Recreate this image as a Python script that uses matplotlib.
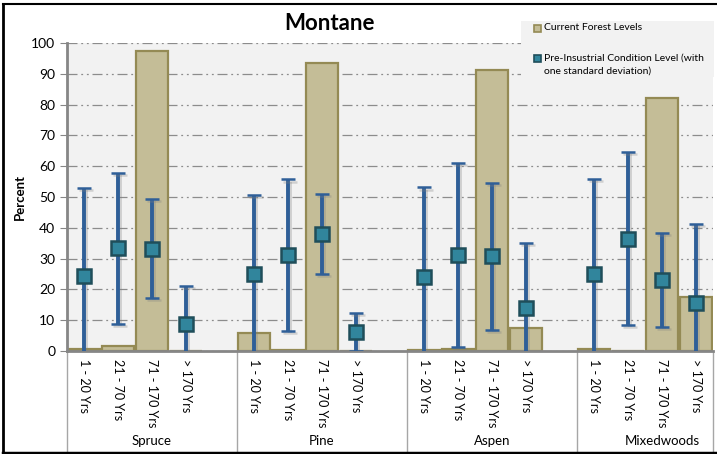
import numpy as np
import matplotlib
matplotlib.use("Agg")
import matplotlib.pyplot as plt
from matplotlib.patches import Rectangle
from matplotlib.lines import Line2D
import matplotlib.patheffects as pe

plt.rcParams['font.family'] = ['Lato', 'DejaVu Sans']

# data
groups = ["Spruce", "Pine", "Aspen", "Mixedwoods"]
age_classes = ["1 - 20 Yrs", "21 - 70 Yrs", "71 - 170 Yrs", "> 170 Yrs"]
current = [0.5, 1.5, 97.5, 0.0,
           6.0, 0.3, 93.5, 0.0,
           0.3, 0.5, 91.3, 7.5,
           0.5, 0.0, 82.0, 17.5]
pre_mean = [24.5, 33.3, 33.2, 8.7,
            25.1, 31.1, 37.9, 6.1,
            24.0, 31.2, 30.7, 14.0,
            25.1, 36.5, 23.1, 15.7]
pre_sd = [28.3, 24.5, 16.1, 12.4,
          25.7, 24.6, 13.0, 6.2,
          29.1, 29.9, 23.8, 21.0,
          30.7, 28.1, 15.2, 25.4]

W, H = 717, 454
fig = plt.figure(figsize=(W / 100, H / 100), dpi=100)

# plot area in pixels
x0, x1, ytop, ybot = 67, 713, 43, 351
ax = fig.add_axes([x0 / W, (H - ybot) / H, (x1 - x0) / W, (ybot - ytop) / H])
ax.set_facecolor("#F2F2F2")

# 5 slots per group, the last one left empty
n_per = len(age_classes)
step = n_per + 1
xpos = np.array([g * step + k for g in range(len(groups)) for k in range(n_per)])

ax.bar(xpos, current, width=0.94, color="#C4BD97", edgecolor="#948A54",
       linewidth=1.6, zorder=2)

shadow = [pe.SimpleLineShadow(offset=(1.5, -1.5), shadow_color="#808080", alpha=0.3), pe.Normal()]
eb = ax.errorbar(xpos, pre_mean, yerr=pre_sd, fmt="s", ms=9.5,
                 mfc="#31859C", mec="#1F4E5A", mew=1.8,
                 ecolor="#2F5F98", elinewidth=2.8, capsize=5, capthick=2.8,
                 zorder=4)
for ln in list(eb[2]) + list(eb[1]):
    ln.set_path_effects(shadow)

ax.set_xlim(-0.5, len(groups) * step - 1.5)
ax.set_ylim(0, 100)
ax.set_yticks(np.arange(0, 101, 10))
ax.tick_params(axis="y", labelsize=10, length=5, color="#868686", direction="out")
ax.grid(axis="y", color="#8C8C8C", linestyle=(0, (8, 3, 1.5, 3, 1.5, 3)), linewidth=0.9, zorder=1)
ax.set_axisbelow(True)

ax.set_xticks(xpos)
ax.set_xticklabels(age_classes * len(groups), rotation=270, fontsize=9)
ax.tick_params(axis="x", length=0, pad=6)

for s in ["top", "right"]:
    ax.spines[s].set_visible(False)
ax.spines["left"].set_color("#868686")
ax.spines["left"].set_linewidth(2)
ax.spines["bottom"].set_color("#868686")
ax.spines["bottom"].set_linewidth(2)

fig.text(20 / W, 1 - 197 / H, "Percent", rotation=90, ha="center", va="center",
         fontsize=9.5, fontweight="bold")

# group labels and separators under the axis
ybottom_axes = (ybot - 452) / (ybot - ytop)
trans = ax.get_xaxis_transform()
for g, name in enumerate(groups):
    start = g * step - 0.5
    ax.plot([start, start], [0, ybottom_axes], transform=trans, color="#A6A6A6",
            lw=1, clip_on=False)
    ax.text(start + step / 2, (ybot - 441) / (ybot - ytop), name, transform=trans,
            ha="center", va="center", fontsize=9.5)
ax.plot([len(groups) * step - 1.5] * 2, [0, ybottom_axes], transform=trans,
        color="#A6A6A6", lw=1, clip_on=False)

fig.text(329 / W, 1 - 24 / H, "Montane", ha="center", va="center",
         fontsize=16, fontweight="bold")

# legend box
lx, ly, lw_, lh = 521, 21, 193, 56
fig.patches.append(Rectangle((lx / W, 1 - (ly + lh) / H), lw_ / W, lh / H,
                             transform=fig.transFigure, facecolor="#F2F2F2",
                             edgecolor="none", zorder=5))
fig.patches.append(Rectangle((534 / W, 1 - 32 / H), 7 / W, 7 / H,
                             transform=fig.transFigure, facecolor="#C4BD97",
                             edgecolor="#948A54", lw=1.2, zorder=6))
fig.text(544 / W, 1 - 28 / H, "Current Forest Levels", fontsize=7.5,
         va="center", ha="left", zorder=6)
fig.patches.append(Rectangle((534 / W, 1 - 62 / H), 7 / W, 7 / H,
                             transform=fig.transFigure, facecolor="#31859C",
                             edgecolor="#1F4E5A", lw=1.2, zorder=6))
fig.text(544 / W, 1 - 58 / H, "Pre-Insustrial Condition Level (with", fontsize=7.5,
         va="center", ha="left", zorder=6)
fig.text(544 / W, 1 - 71 / H, "one standard deviation)", fontsize=7.5,
         va="center", ha="left", zorder=6)

# outer frame
fig.add_artist(Line2D([3 / W, 3 / W], [0, 1 - 4 / H], transform=fig.transFigure,
                      color="black", lw=2))
fig.add_artist(Line2D([3 / W, 1], [1 - 4 / H, 1 - 4 / H], transform=fig.transFigure,
                      color="black", lw=1.5))
fig.add_artist(Line2D([3 / W, 1], [1.5 / H, 1.5 / H], transform=fig.transFigure,
                      color="black", lw=2.5))

fig.savefig("out.png", dpi=100)
